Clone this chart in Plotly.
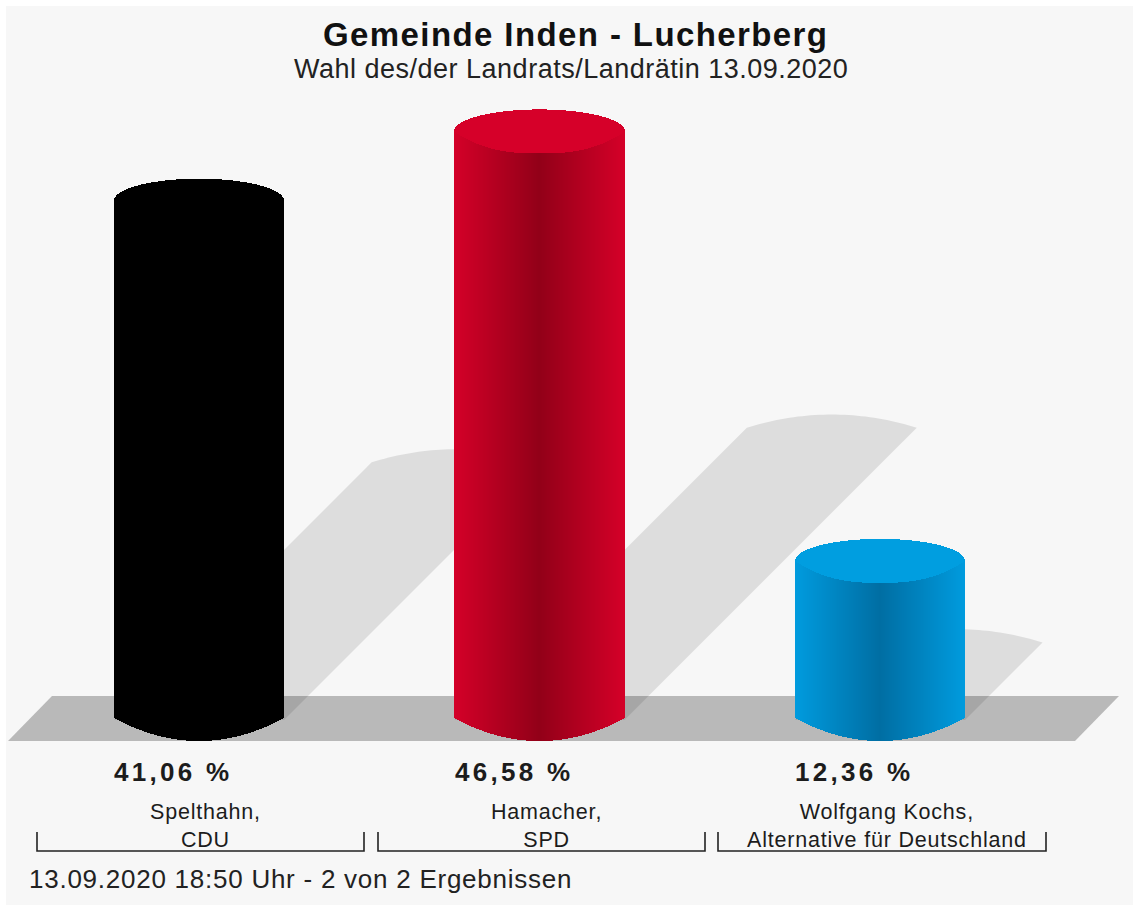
import numpy as np
import plotly.graph_objects as go

candidates = ["Spelthahn,<br>CDU", "Hamacher,<br>SPD", "Wolfgang Kochs,<br>Alternative für Deutschland"]
shares = [41.06, 46.58, 12.36]
share_labels = ["41,06 %", "46,58 %", "12,36 %"]
edge_colors = [(0, 0, 0), (212, 0, 40), (0, 155, 222)]
center_colors = [(0, 0, 0), (146, 0, 24), (0, 110, 163)]
cap_colors = [(0, 0, 0), (214, 0, 41), (0, 158, 224)]

W, H = 1133, 906
PX_PER_CAT, X0_PX = 340.5, 199.0
PX_PER_UNIT, Y0_PX = 12.55, 716.0
HALF_W = 85 / PX_PER_CAT
RY_TOP = 22 / PX_PER_UNIT
RY_BOT = 23 / PX_PER_UNIT
FLOOR = -2 / PX_PER_UNIT
SHADOW_BASE = -4 / PX_PER_UNIT
BG = "#f7f7f7"


def xd(px):
    return (px - X0_PX) / PX_PER_CAT


def yd(px):
    return (Y0_PX - px) / PX_PER_UNIT


def rgb(c):
    return f"rgb({int(round(c[0]))},{int(round(c[1]))},{int(round(c[2]))})"


def spaced(text, px):
    return "<br>".join(f'<span style="letter-spacing:{px}px">{line}</span>' for line in text.split("<br>"))


fig = go.Figure()
shapes = [
    dict(type="rect", xref="paper", yref="paper", x0=6 / W, x1=1, y0=1 / H, y1=1 - 6 / H,
         fillcolor=BG, line_width=0, layer="below"),
    dict(type="path", xref="x", yref="y", layer="below", fillcolor="#b9b9b9", line_width=0,
         path=f"M{xd(8)},{yd(741)} L{xd(52)},{yd(696)} L{xd(1119)},{yd(696)} L{xd(1075)},{yd(741)} Z"),
]

step = 1 / PX_PER_CAT
for i, v in enumerate(shares):
    # shadow: half the height of the column, sheared 45 degrees to the right
    h = v / 2
    shift = h * PX_PER_UNIT / PX_PER_CAT
    u = np.linspace(-1, 1, 41)
    ax = i + shift + HALF_W * u
    ay = SHADOW_BASE + h + RY_TOP * 0.6 * (1 - u ** 2)
    pts = [(i - HALF_W, SHADOW_BASE)] + list(zip(ax, ay)) + [(i + HALF_W, SHADOW_BASE)]
    path = "M" + " L".join(f"{a:.5f},{b:.4f}" for a, b in pts) + " Z"
    shapes.append(dict(type="path", xref="x", yref="y", layer="below", path=path,
                       fillcolor="rgba(0,0,0,0.1)", line_width=0))

    # column drawn from one-pixel bars so that it can carry a gradient and curved ends
    n = int(round(2 * HALF_W * PX_PER_CAT))
    xs = i - HALF_W + (np.arange(n) + 0.5) * step
    u = (xs - i) / HALF_W
    lower = RY_BOT * (1 - u ** 2)
    cap_low = RY_TOP * (1 - np.abs(u) ** 2.6)
    cap_top = RY_TOP * np.sqrt(np.clip(1 - u ** 2, 0, 1))
    e, c = np.array(edge_colors[i], float), np.array(center_colors[i], float)
    cols = [rgb(e + (c - e) * (1 - abs(k))) for k in u]
    base = FLOOR - lower
    fig.add_bar(x=xs, y=(v - cap_low) - base, base=base, width=step * 1.05,
                marker=dict(color=cols, line_width=0), hoverinfo="skip", showlegend=False)
    fig.add_bar(x=xs, y=cap_top + cap_low, base=v - cap_low, width=step * 1.05,
                marker=dict(color=rgb(cap_colors[i]), line_width=0), hoverinfo="skip", showlegend=False)

TEXT = "#1c1c1c"
FONT = "Liberation Sans"
anns = [
    dict(text="<b>" + spaced("Gemeinde Inden - Lucherberg", 1.4) + "</b>", x=575 / W, y=1 - 35 / H, size=33, color="#111"),
    dict(text=spaced("Wahl des/der Landrats/Landrätin 13.09.2020", 0.5), x=571 / W, y=1 - 69 / H, size=27, color="#222"),
    dict(text=spaced("13.09.2020 18:50 Uhr - 2 von 2 Ergebnissen", 0.75), x=300 / W, y=1 - 879 / H, size=26, color="#222"),
]
annotations = [dict(text=a["text"], xref="paper", yref="paper", x=a["x"], y=a["y"], xanchor="center",
                    yanchor="middle", showarrow=False, font=dict(family=FONT, size=a["size"], color=a["color"]))
               for a in anns]

brackets = [(37, 364), (378, 705), (718, 1046)]
for i, (lab, cand, (b0, b1)) in enumerate(zip(share_labels, candidates, brackets)):
    annotations.append(dict(text="<b>" + spaced(lab, 3.3) + "</b>", xref="x", yref="paper",
                            x=i - HALF_W - 2 / PX_PER_CAT, y=1 - 772 / H,
                            xanchor="left", yanchor="middle", showarrow=False,
                            font=dict(family=FONT, size=26, color=TEXT)))
    annotations.append(dict(text=spaced(cand, 0.8), xref="x", yref="paper", x=i + 6.5 / PX_PER_CAT, y=1 - 826 / H,
                            xanchor="center", yanchor="middle", showarrow=False,
                            font=dict(family=FONT, size=21.5, color=TEXT)))
    shapes.append(dict(type="path", xref="paper", yref="paper", layer="above",
                       line=dict(color="#222", width=1.6),
                       path=f"M{b0 / W},{1 - 832 / H} L{b0 / W},{1 - 851 / H} L{b1 / W},{1 - 851 / H} L{b1 / W},{1 - 832 / H}"))

fig.update_layout(
    width=W, height=H, autosize=False, barmode="overlay", bargap=0,
    margin=dict(l=0, r=0, t=0, b=0), paper_bgcolor="white", plot_bgcolor="rgba(0,0,0,0)",
    shapes=shapes, annotations=annotations, showlegend=False,
    xaxis=dict(visible=False, range=[xd(0), xd(W)], fixedrange=True),
    yaxis=dict(visible=False, range=[yd(H), yd(0)], fixedrange=True),
)
fig.write_html("out.html", config=dict(displayModeBar=False, staticPlot=True),
               post_script="document.body.style.margin='0';document.body.style.overflow='hidden';")
